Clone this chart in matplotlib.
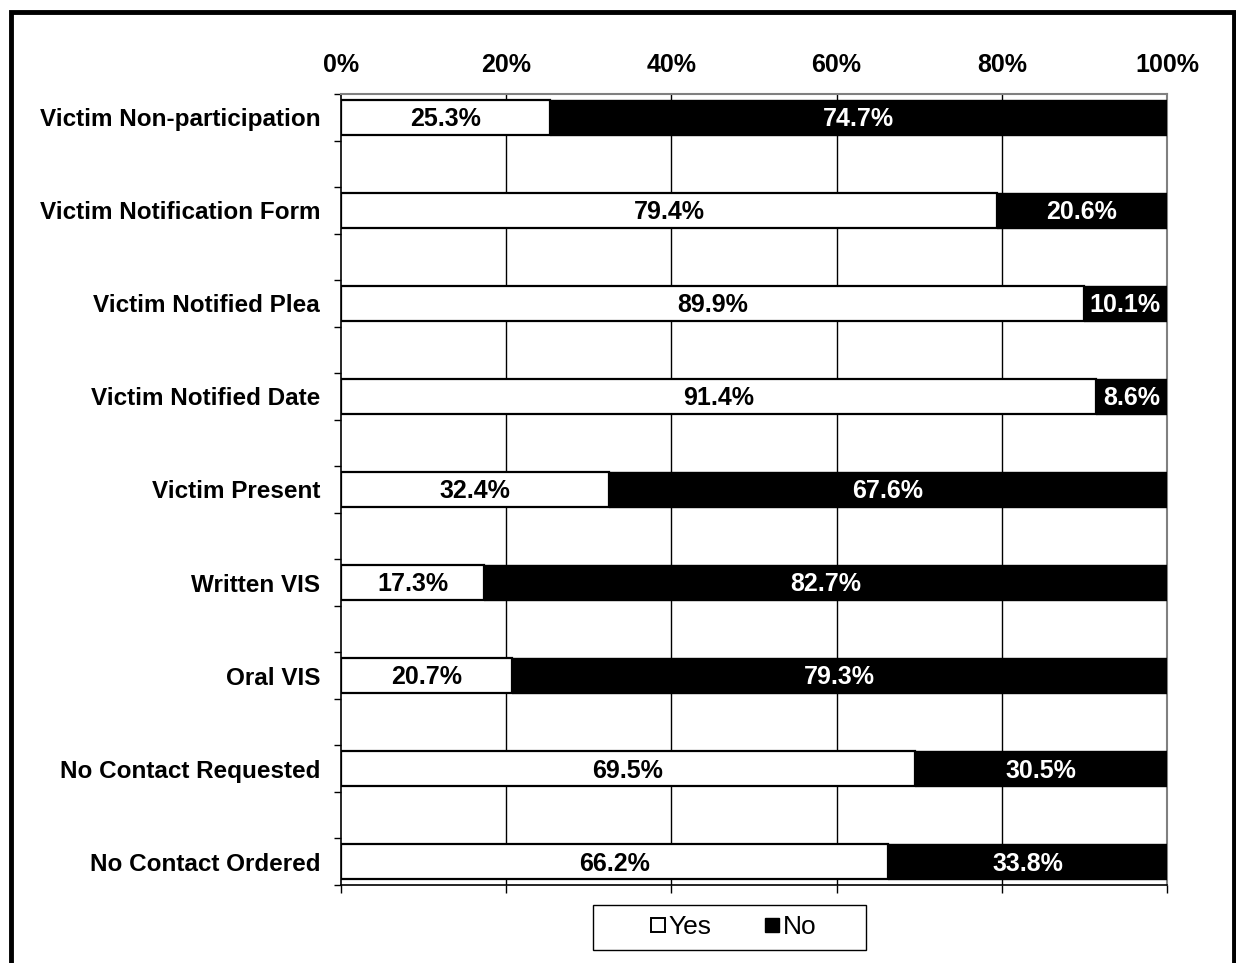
import matplotlib.pyplot as plt
from matplotlib.lines import Line2D
from matplotlib.patches import Rectangle
import numpy as np

plt.rcParams['font.family'] = ['Liberation Sans', 'DejaVu Sans']

categories = ['Victim Non-participation', 'Victim Notification Form', 'Victim Notified Plea',
              'Victim Notified Date', 'Victim Present', 'Written VIS', 'Oral VIS',
              'No Contact Requested', 'No Contact Ordered']
yes_vals = [25.3, 79.4, 89.9, 91.4, 32.4, 17.3, 20.7, 69.5, 66.2]
no_vals = [74.7, 20.6, 10.1, 8.6, 67.6, 82.7, 79.3, 30.5, 33.8]
xticks = [0, 20, 40, 60, 80, 100]

fs = 18
fig = plt.figure(figsize=(12.36, 9.63), dpi=100)
ax = fig.add_axes([0.2759, 0.0810, 0.9442 - 0.2759, 0.9024 - 0.0810])

# blank rows between categories, like the original sheet
ypos = np.arange(len(categories)) * 2
h = 0.75

ax.barh(ypos, yes_vals, height=h, color='white', edgecolor='black', lw=1.6, zorder=3)
ax.barh(ypos, no_vals, left=yes_vals, height=h, color='black', edgecolor='black', lw=1.0, zorder=3)

for y, yv, nv in zip(ypos, yes_vals, no_vals):
    ax.text(yv / 2, y + 0.04, '%.1f%%' % yv, ha='center', va='center',
            fontsize=fs, fontweight='bold', color='black', zorder=4)
    ax.text(yv + nv / 2, y + 0.04, '%.1f%%' % nv, ha='center', va='center',
            fontsize=fs, fontweight='bold', color='white', zorder=4)

ax.set_xlim(0, 100)
ax.set_ylim(len(categories) * 2 - 1.5, -0.5)

for x in xticks[1:-1]:
    ax.axvline(x, color='black', lw=1.0, zorder=1)

# y axis: category labels, tick marks on every row boundary
ax.set_yticks(ypos)
ax.set_yticklabels(categories, fontsize=17.5, fontweight='bold')
ax.set_yticks(np.arange(-0.5, len(categories) * 2 - 1, 1.0), minor=True)
ax.tick_params(axis='y', which='major', length=0, pad=15)
ax.tick_params(axis='y', which='minor', length=5, width=1, color='black')

# bottom: ticks only; top: labels only
ax.set_xticks(xticks)
ax.set_xticklabels([])
ax.tick_params(axis='x', which='major', bottom=True, top=False, length=6, width=1, direction='out')
sec = ax.secondary_xaxis('top')
sec.set_xticks(xticks)
sec.set_xticklabels(['%d%%' % t for t in xticks], fontsize=fs, fontweight='bold')
sec.tick_params(length=0, pad=12)
sec.spines['top'].set_visible(False)

ax.spines['left'].set_color('black')
ax.spines['bottom'].set_color('black')
ax.spines['left'].set_linewidth(1.2)
ax.spines['bottom'].set_linewidth(1.2)
ax.spines['top'].set_color('grey')
ax.spines['right'].set_color('grey')
ax.spines['top'].set_linewidth(1.5)
ax.spines['right'].set_linewidth(1.5)

# legend
handles = [Line2D([], [], marker='s', ls='none', markersize=10, markerfacecolor='white',
                  markeredgecolor='black', markeredgewidth=1.4),
           Line2D([], [], marker='s', ls='none', markersize=10, markerfacecolor='black',
                  markeredgecolor='black')]
fig.legend(handles, ['Yes', 'No'], loc='center', bbox_to_anchor=(0.5935, 0.0375), ncol=2,
           frameon=False, fontsize=19, handlelength=0.55, handletextpad=0.15, columnspacing=2.0)
fig.patches.append(Rectangle((593 / 1236, 1 - 950 / 963), 273 / 1236, 45 / 963,
                             transform=fig.transFigure, fill=False, edgecolor='black', lw=1.0))

# outer frame
fig.patches.append(Rectangle((11 / 1236, -0.05), 1223 / 1236, 1.05 - 12 / 963,
                             transform=fig.transFigure, fill=False, edgecolor='black', lw=3.5,
                             clip_on=False))

plt.savefig('out.png', dpi=100)
